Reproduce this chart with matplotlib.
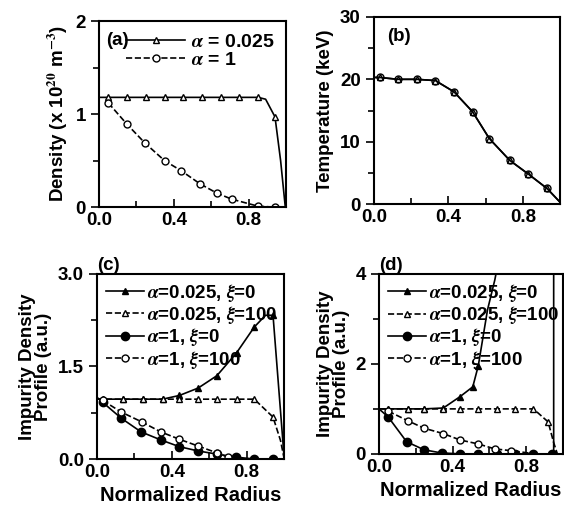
import matplotlib
matplotlib.use('Agg')
import matplotlib.pyplot as plt
from matplotlib.ticker import MultipleLocator

plt.rcParams['font.family'] = ['Liberation Sans', 'DejaVu Sans']
plt.rcParams['font.weight'] = 'bold'
plt.rcParams['axes.labelweight'] = 'bold'
plt.rcParams['mathtext.fontset'] = 'stix'

# (a) density
dens_x1 = [0.0, 0.05, 0.15, 0.25, 0.35, 0.45, 0.55, 0.65, 0.75, 0.85, 0.89, 0.94, 0.97, 0.995]
dens_y1 = [1.18, 1.18, 1.18, 1.18, 1.18, 1.18, 1.18, 1.18, 1.18, 1.18, 1.16, 0.97, 0.5, 0.0]
dens_x2 = [0.05, 0.15, 0.245, 0.35, 0.44, 0.54, 0.63, 0.71, 0.85, 0.94, 1.0]
dens_y2 = [1.12, 0.89, 0.69, 0.5, 0.39, 0.25, 0.15, 0.085, 0.01, 0.0, 0.0]

# (b) temperature (same for both alpha)
temp_x = [0.0, 0.03, 0.13, 0.23, 0.33, 0.43, 0.53, 0.62, 0.73, 0.83, 0.93, 1.0]
temp_y = [20.3, 20.3, 20.0, 20.0, 19.8, 18.0, 14.8, 10.5, 7.0, 4.8, 2.5, 0.3]

# (c) impurity, xi = 0 / 100
c_x1 = [0.0, 0.03, 0.14, 0.245, 0.35, 0.44, 0.54, 0.64, 0.745, 0.84, 0.9, 0.94, 1.0]
c_y1 = [0.97, 0.97, 0.97, 0.97, 0.97, 1.03, 1.15, 1.35, 1.72, 2.14, 2.33, 2.33, 0.0]
c_x2 = [0.0, 0.03, 0.14, 0.245, 0.35, 0.44, 0.54, 0.64, 0.745, 0.84, 0.94, 0.98, 1.0]
c_y2 = [0.97, 0.97, 0.97, 0.97, 0.97, 0.97, 0.97, 0.97, 0.97, 0.97, 0.68, 0.3, 0.0]
c_x3 = [0.0, 0.03, 0.13, 0.235, 0.34, 0.44, 0.54, 0.64, 0.74, 0.84, 0.94]
c_y3 = [1.0, 0.92, 0.66, 0.44, 0.31, 0.2, 0.13, 0.08, 0.03, 0.0, 0.0]
c_x4 = [0.03, 0.13, 0.24, 0.34, 0.44, 0.54, 0.64, 0.7, 0.76]
c_y4 = [0.95, 0.76, 0.6, 0.44, 0.32, 0.21, 0.1, 0.03, 0.0]

# (d) impurity, another case
d_x1 = [0.0, 0.05, 0.155, 0.245, 0.35, 0.44, 0.51, 0.54, 0.59, 0.63, 0.65, 0.95, 0.95]
d_y1 = [1.0, 1.0, 1.0, 1.0, 1.02, 1.27, 1.49, 1.96, 3.2, 3.87, 4.3, 4.3, 0.0]
d_x2 = [0.0, 0.05, 0.155, 0.245, 0.35, 0.44, 0.54, 0.64, 0.74, 0.84, 0.92, 0.95, 0.97]
d_y2 = [1.0, 1.0, 1.0, 1.0, 1.0, 1.0, 1.0, 1.0, 1.0, 1.0, 0.71, 0.25, 0.0]
d_x3 = [0.0, 0.05, 0.15, 0.245, 0.34, 0.44, 0.54, 0.64, 0.74, 0.84, 0.94]
d_y3 = [1.0, 0.82, 0.27, 0.09, 0.02, 0.0, 0.0, 0.0, 0.0, 0.0, 0.0]
d_x4 = [0.05, 0.16, 0.245, 0.35, 0.44, 0.54, 0.63, 0.72, 0.85]
d_y4 = [0.95, 0.73, 0.57, 0.45, 0.31, 0.22, 0.11, 0.07, 0.0]

fig = plt.figure(figsize=(5.64, 5.14), dpi=100)

def style(ax, ymax, ymaj, ymin):
    ax.set_xlim(0, 1.0)
    ax.set_ylim(0, ymax)
    ax.xaxis.set_major_locator(MultipleLocator(0.4))
    ax.xaxis.set_minor_locator(MultipleLocator(0.2))
    ax.yaxis.set_major_locator(MultipleLocator(ymaj))
    ax.yaxis.set_minor_locator(MultipleLocator(ymin))
    ax.tick_params(axis='x', which='both', direction='in', labelsize=13.5, width=1.2)
    ax.tick_params(axis='x', which='major', length=6)
    ax.tick_params(axis='x', which='minor', length=4)
    ax.tick_params(axis='y', which='both', direction='out', labelsize=13.5, width=1.2)
    ax.tick_params(axis='y', which='major', length=6)
    ax.tick_params(axis='y', which='minor', length=4)
    for s in ax.spines.values():
        s.set_linewidth(1.5)

mk = dict(color='black', lw=1.2, ms=5)

ax = fig.add_axes([0.1755, 0.597, 0.332, 0.362])
ax.plot(dens_x1, dens_y1, '-', marker='^', mfc='white', markevery=list(range(1, 10)) + [11],
        label=r'$\alpha$ = 0.025', **mk)
ax.plot(dens_x2, dens_y2, '--', marker='o', mfc='white', markevery=list(range(0, 10)),
        label=r'$\alpha$ = 1', **mk)
style(ax, 2, 1, 0.5)
ax.yaxis.set_major_formatter(plt.FuncFormatter(lambda v, p: '%d' % v))
ax.set_ylabel('Density (x 10$^{20}$ m$^{-3}$)', fontsize=13.5)
ax.text(0.04, 0.94, '(a)', transform=ax.transAxes, fontsize=13.5, va='top')
ax.legend(loc='upper right', bbox_to_anchor=(1.03, 1.03), frameon=False, fontsize=14,
          handlelength=3.0, handletextpad=0.3, labelspacing=0.05, numpoints=1)

ax = fig.add_axes([0.663, 0.603, 0.330, 0.364])
ax.plot(temp_x, temp_y, '-', marker='^', mfc='white', markevery=list(range(1, 11)), **mk)
ax.plot(temp_x, temp_y, '-', marker='o', mfc='none', markevery=list(range(1, 11)), **mk)
style(ax, 30, 10, 5)
ax.set_ylabel('Temperature (keV)', fontsize=13.5)
ax.text(0.07, 0.94, '(b)', transform=ax.transAxes, fontsize=13.5, va='top')

def impurity(ax, xs, ys, m1, m2, m3, m4):
    ax.plot(xs[0], ys[0], '-', marker='^', markevery=m1, label=r'$\alpha$=0.025, $\xi$=0', **mk)
    ax.plot(xs[1], ys[1], '--', marker='^', mfc='white', markevery=m2,
            label=r'$\alpha$=0.025, $\xi$=100', **mk)
    ax.plot(xs[2], ys[2], '-', color='black', lw=1.2, marker='o', ms=6, markevery=m3,
            label=r'$\alpha$=1, $\xi$=0')
    ax.plot(xs[3], ys[3], '--', marker='o', mfc='white', markevery=m4,
            label=r'$\alpha$=1, $\xi$=100', **mk)
    ax.legend(loc='upper left', bbox_to_anchor=(-0.02, 1.03), frameon=False, fontsize=13.5,
              handlelength=2.0, handletextpad=0.15, labelspacing=0.02, numpoints=1,
              borderaxespad=0.3)
    ax.set_xlabel('Normalized Radius', fontsize=14.5)
    ax.set_ylabel('Impurity Density\nProfile (a.u.)', fontsize=13.5, linespacing=0.95)

ax = fig.add_axes([0.172, 0.107, 0.332, 0.36])
impurity(ax, [c_x1, c_x2, c_x3, c_x4], [c_y1, c_y2, c_y3, c_y4],
         list(range(1, 10)) + [11], list(range(1, 11)), list(range(1, 11)), list(range(0, 8)))
style(ax, 3.0, 1.5, 0.75)
ax.yaxis.set_major_formatter(plt.FuncFormatter(lambda v, p: '%.1f' % v))
ax.text(0.0, 1.0, '(c)', transform=ax.transAxes, fontsize=13.5, va='bottom')

ax = fig.add_axes([0.672, 0.117, 0.326, 0.35])
impurity(ax, [d_x1, d_x2, d_x3, d_x4], [d_y1, d_y2, d_y3, d_y4],
         list(range(1, 8)), list(range(1, 11)), list(range(1, 11)), list(range(0, 8)))
style(ax, 4, 2, 1)
ax.yaxis.set_major_formatter(plt.FuncFormatter(lambda v, p: '%d' % v))
ax.text(0.0, 1.0, '(d)', transform=ax.transAxes, fontsize=13.5, va='bottom')

fig.savefig('out.png', dpi=100)
